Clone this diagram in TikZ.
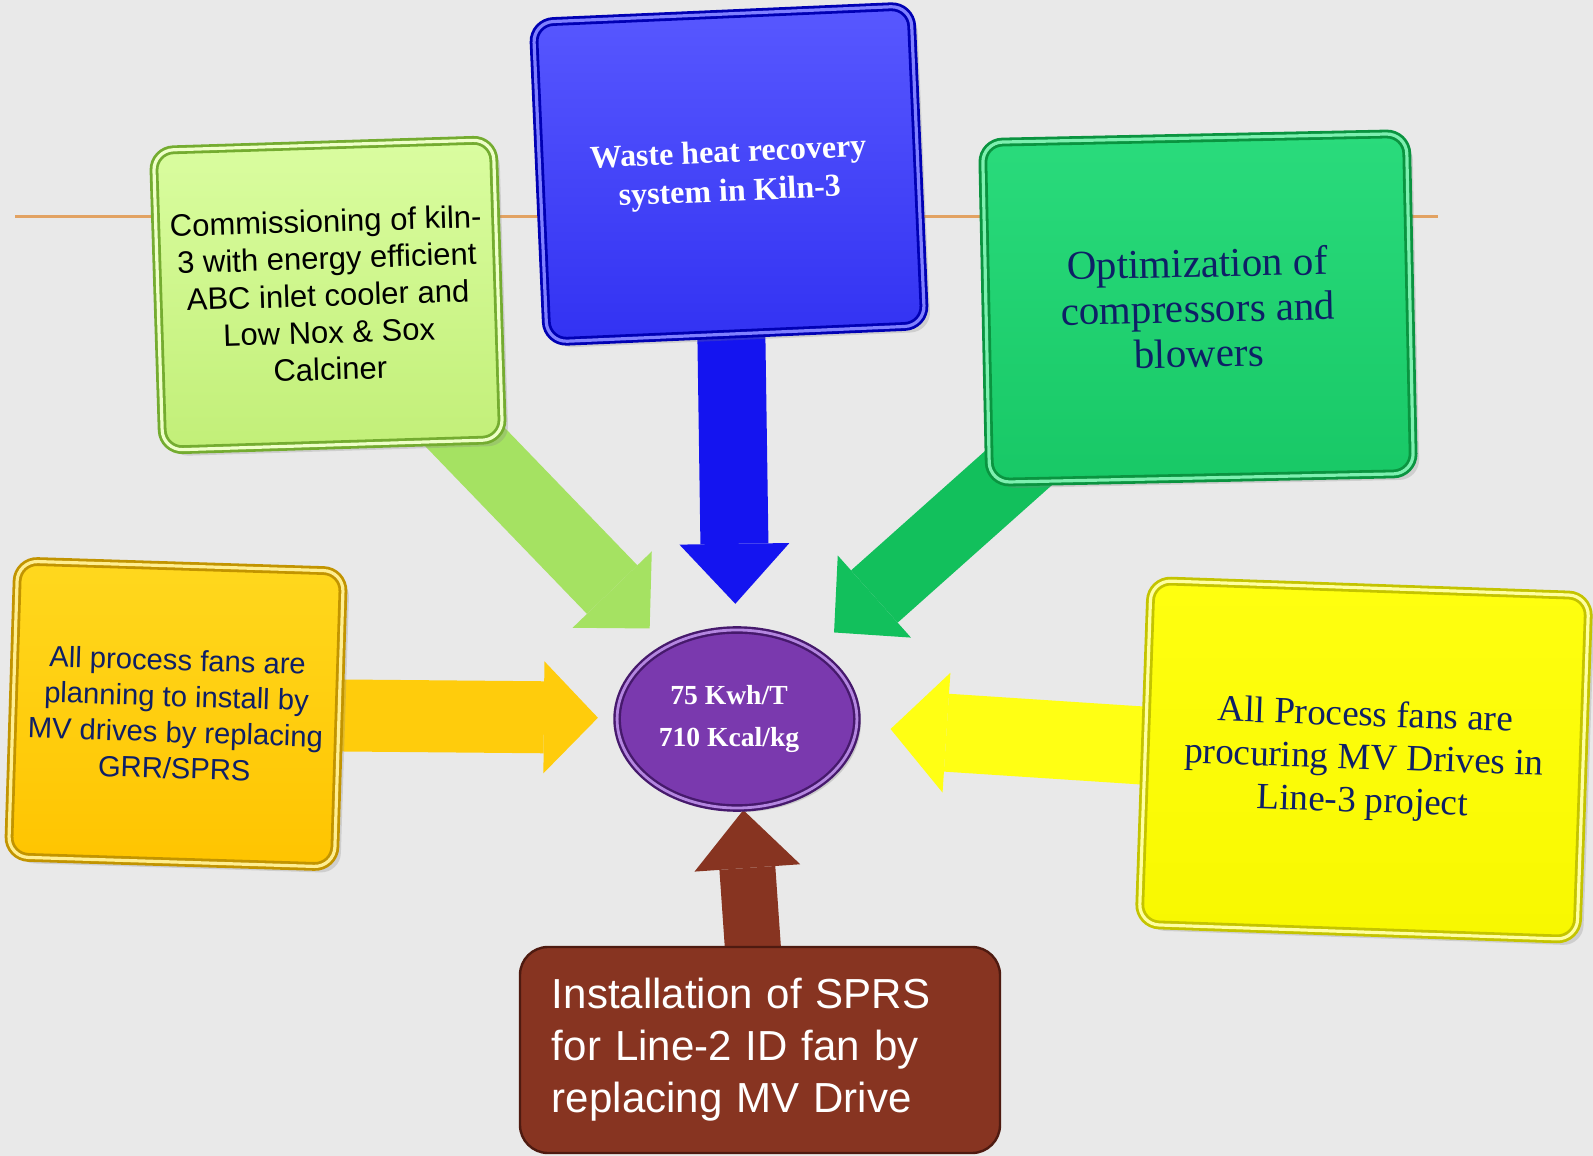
\documentclass[tikz,border=0pt]{standalone}
\usepackage{fontspec}
\setmainfont{Liberation Serif}
\setsansfont{Liberation Sans}
\usetikzlibrary{shapes,arrows.meta,shadows}

\definecolor{paper}{HTML}{E9E9E9}
\definecolor{rulecol}{HTML}{E2A262}
\definecolor{navy}{HTML}{0E1F66}
\definecolor{kilnA}{HTML}{DAFDA0}
\definecolor{kilnB}{HTML}{C2EF78}
\definecolor{kilnD}{HTML}{74AC30}
\definecolor{kilnL}{HTML}{EEFFC8}
\definecolor{kilnF}{HTML}{A5E262}
\definecolor{whrA}{HTML}{5858FF}
\definecolor{whrB}{HTML}{3232F2}
\definecolor{whrD}{HTML}{0000B4}
\definecolor{whrL}{HTML}{8080FF}
\definecolor{whrF}{HTML}{1414F0}
\definecolor{compA}{HTML}{2ADB7C}
\definecolor{compB}{HTML}{18C866}
\definecolor{compD}{HTML}{0A9440}
\definecolor{compL}{HTML}{7DF0B0}
\definecolor{compF}{HTML}{12C05C}
\definecolor{fanA}{HTML}{FFD81E}
\definecolor{fanB}{HTML}{FFC400}
\definecolor{fanD}{HTML}{C29400}
\definecolor{fanL}{HTML}{FFEE90}
\definecolor{fanF}{HTML}{FFCC0C}
\definecolor{drvA}{HTML}{FFFF10}
\definecolor{drvB}{HTML}{F8F800}
\definecolor{drvD}{HTML}{C4C400}
\definecolor{drvL}{HTML}{FFFFA0}
\definecolor{drvF}{HTML}{FFFF14}
\definecolor{brick}{HTML}{873421}
\definecolor{brickD}{HTML}{4E1A10}
\definecolor{plum}{HTML}{7A39AE}
\definecolor{plumD}{HTML}{46196C}
\definecolor{plumL}{HTML}{B486E0}

\pgfdeclarelayer{paperlayer}
\pgfdeclarelayer{arrowlayer}
\pgfsetlayers{paperlayer,arrowlayer,main}

\begin{document}
\begin{tikzpicture}[x=0.5bp,y=-0.5bp,
  box/.style={rectangle,rounded corners=10bp,line width=1.4bp,double distance=1.6bp,
    drop shadow={shadow xshift=3bp,shadow yshift=-3bp,opacity=0.25},align=center,inner sep=4bp},
  flow/.style n args={4}{draw=#1,line width=#2,line cap=butt,
    -{Triangle[length=#3,width=#4,line width=0pt]}}]

\begin{pgfonlayer}{paperlayer}
\fill [paper] (0,0) rectangle (1593,1156);
\draw [rulecol,line width=1.5bp] (15,217) -- (1438,217);
\end{pgfonlayer}
\useasboundingbox (0,0) rectangle (1593,1156);

% the six measures
\node (Kiln) at (328,295) [box,rotate=1.8,minimum width=170bp,minimum height=150bp,
  top color=kilnA,bottom color=kilnB,draw=kilnD,double=kilnL,
  font=\sffamily\fontsize{15.5bp}{18.5bp}\selectfont]
  {Commissioning of kiln-\\3 with energy efficient\\ABC inlet cooler and\\Low Nox \& Sox\\Calciner};
\node (WHR) at (729,174) [box,rotate=2.5,minimum width=189bp,minimum height=160bp,
  top color=whrA,bottom color=whrB,draw=whrD,double=whrL,text=white,
  font=\bfseries\fontsize{16bp}{19.5bp}\selectfont]
  {Waste heat recovery\\system in Kiln-3};
\node (Comp) at (1198,308) [box,rotate=1.2,minimum width=212bp,minimum height=170bp,
  top color=compA,bottom color=compB,draw=compD,double=compL,text=navy,
  font=\fontsize{20.5bp}{22.5bp}\selectfont]
  {Optimization of\\compressors and\\blowers};
\node (Fans) at (176,714) [box,rotate=-1.8,minimum width=163bp,minimum height=148bp,
  top color=fanA,bottom color=fanB,draw=fanD,double=fanL,text=navy,
  font=\sffamily\fontsize{14.6bp}{18bp}\selectfont]
  {All process fans are\\planning to install by\\MV drives by replacing\\GRR/SPRS};
\node (Drives) at (1364,760) [box,rotate=-2,minimum width=219bp,minimum height=172bp,
  top color=drvA,bottom color=drvB,draw=drvD,double=drvL,text=navy,
  font=\fontsize{18.5bp}{21.5bp}\selectfont]
  {All Process fans are\\procuring MV Drives in\\Line-3 project};
\node (SPRS) at (760,1050) [rectangle,rounded corners=14bp,minimum width=240bp,minimum height=103bp,
  fill=brick,draw=brickD,line width=1.2bp,text=white,align=left,text width=208bp,
  font=\sffamily\fontsize{21bp}{26bp}\selectfont]
  {Installation of SPRS\\for Line-2 ID fan by\\replacing MV Drive};

% target
\node (Goal) at (737,719) [ellipse,minimum width=117bp,minimum height=89bp,
  fill=plum,draw=plumD,double=plumL,line width=1.2bp,double distance=1.4bp,
  drop shadow={shadow xshift=2bp,shadow yshift=-2bp,opacity=0.3},text=white,
  font=\bfseries\fontsize{13.8bp}{21bp}\selectfont,align=center]
  {75 Kwh/T\hspace*{8bp}\\710 Kcal/kg\hspace*{8bp}};

\begin{pgfonlayer}{arrowlayer}
\draw [flow={kilnF}{35bp}{27bp}{55bp},shorten >=12bp] (Kiln.center) -- (Goal);
\draw [flow={whrF}{34bp}{30bp}{55bp},shorten >=12.5bp] (WHR.center) -- (Goal);
\draw [flow={compF}{35bp}{27bp}{55bp},shorten >=13bp] (Comp.center) -- (Goal);
\draw [flow={fanF}{36bp}{27bp}{56bp},shorten >=9bp] (Fans.center) -- (Goal);
\draw [flow={drvF}{39bp}{28bp}{60bp},shorten >=16.5bp] (Drives.center) -- (Goal);
\draw [flow={brick}{28bp}{29bp}{53bp},shorten >=0.5bp] (SPRS.center) -- (Goal);
\end{pgfonlayer}
\end{tikzpicture}
\end{document}
